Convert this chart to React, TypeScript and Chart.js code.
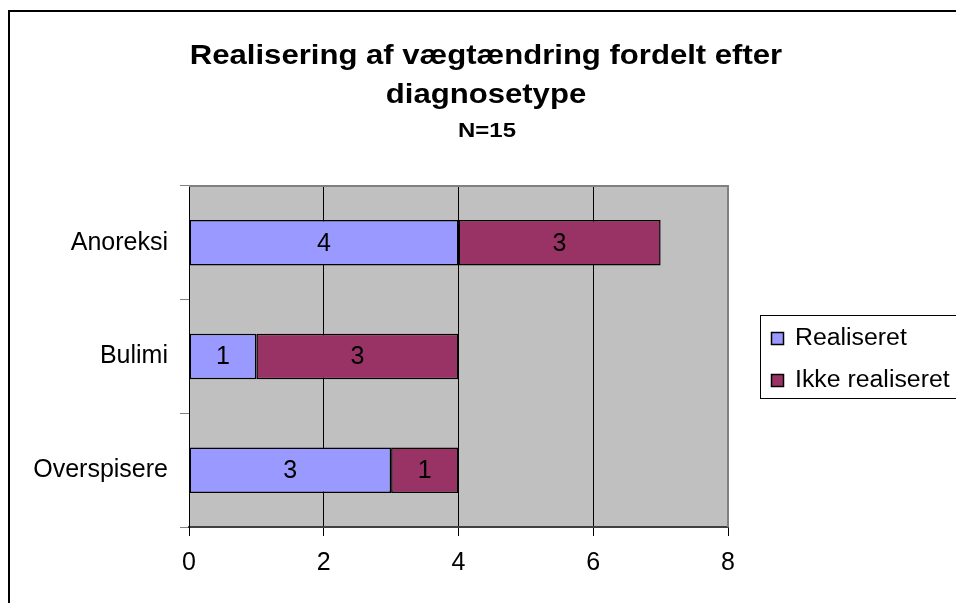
import React, { useEffect, useRef } from "react";
import { Chart, registerables } from "chart.js";

Chart.register(...registerables);

const categories = ["Anoreksi", "Bulimi", "Overspisere"];
const realiseret = [4, 1, 3];
const ikkeRealiseret = [3, 3, 1];
const seriesNames = ["Realiseret", "Ikke realiseret"];
const seriesColors = ["#9999FF", "#993366"];
const titleLines = ["Realisering af vægtændring fordelt efter", "diagnosetype"];
const subtitle = "N=15";
const xMin = 0;
const xMax = 8;
const xStep = 2;

const FONT = "'Liberation Sans', Arial, sans-serif";

const decorPlugin = {
  id: "decor",
  beforeDraw(chart: any) {
    const { ctx, chartArea } = chart;
    ctx.save();
    ctx.fillStyle = "#ffffff";
    ctx.fillRect(0, 0, chart.width, chart.height);
    ctx.strokeStyle = "#000000";
    ctx.lineWidth = 2;
    ctx.strokeRect(9, 11, chart.width + 20, chart.height + 20);
    ctx.fillStyle = "#C0C0C0";
    ctx.fillRect(chartArea.left, chartArea.top, chartArea.right - chartArea.left, chartArea.bottom - chartArea.top);
    ctx.restore();
  },
  afterDraw(chart: any) {
    const { ctx, chartArea } = chart;
    ctx.save();
    ctx.strokeStyle = "#808080";
    ctx.lineWidth = 2;
    ctx.beginPath();
    ctx.moveTo(chartArea.left, chartArea.top);
    ctx.lineTo(chartArea.right, chartArea.top);
    ctx.lineTo(chartArea.right, chartArea.bottom);
    ctx.stroke();

    ctx.fillStyle = "#000000";
    ctx.textAlign = "center";
    ctx.textBaseline = "alphabetic";
    const cx = 486;
    const drawScaled = (text: string, x: number, y: number, font: string, sx: number) => {
      ctx.save();
      ctx.translate(x, y);
      ctx.scale(sx, 1);
      ctx.font = font;
      ctx.fillText(text, 0, 0);
      ctx.restore();
    };
    drawScaled(titleLines[0], cx, 64, `bold 28px ${FONT}`, 1.11);
    drawScaled(titleLines[1], cx, 103, `bold 28px ${FONT}`, 1.11);
    drawScaled(subtitle, 487, 137, `bold 21px ${FONT}`, 1.14);

    const lx = 760;
    const ly = 315;
    ctx.strokeStyle = "#000000";
    ctx.lineWidth = 1;
    ctx.strokeRect(lx + 0.5, ly + 0.5, 300, 83);
    const items = chart.data.datasets;
    const rows = [345, 387];
    items.forEach((ds: any, i: number) => {
      const by = rows[i];
      ctx.fillStyle = ds.backgroundColor;
      ctx.fillRect(771, by - 13, 13, 13);
      ctx.strokeStyle = "#000000";
      ctx.lineWidth = 1.5;
      ctx.strokeRect(771.5, by - 12.5, 12, 12);
      ctx.fillStyle = "#000000";
      ctx.textAlign = "left";
      ctx.save();
      ctx.translate(795, by);
      ctx.scale(1.08, 1);
      ctx.font = `23px ${FONT}`;
      ctx.fillText(ds.label, 0, 0);
      ctx.restore();
    });

    ctx.fillStyle = "#000000";
    ctx.textAlign = "center";
    ctx.textBaseline = "middle";
    ctx.font = `25px ${FONT}`;
    chart.data.datasets.forEach((ds: any, di: number) => {
      const meta = chart.getDatasetMeta(di);
      meta.data.forEach((el: any, i: number) => {
        const v = ds.data[i];
        if (!v) return;
        const x = (el.x + el.base) / 2;
        ctx.fillText(String(v), x, el.y + 1);
      });
    });
    ctx.restore();
  },
};

export default function App() {
  const ref = useRef<HTMLCanvasElement | null>(null);
  useEffect(() => {
    if (!ref.current) return;
    const chart = new Chart(ref.current, {
      type: "bar",
      data: {
        labels: categories,
        datasets: [
          {
            label: seriesNames[0],
            data: realiseret,
            backgroundColor: seriesColors[0],
            borderColor: "#000000",
            borderWidth: 1.5,
            borderSkipped: false,
            categoryPercentage: 1,
            barPercentage: 0.4,
          },
          {
            label: seriesNames[1],
            data: ikkeRealiseret,
            backgroundColor: seriesColors[1],
            borderColor: "#000000",
            borderWidth: 1.5,
            borderSkipped: false,
            categoryPercentage: 1,
            barPercentage: 0.4,
          },
        ],
      },
      options: {
        indexAxis: "y",
        responsive: false,
        animation: false,
        layout: { padding: { top: 186, right: 228, left: 0, bottom: 0 } },
        plugins: {
          legend: { display: false },
          title: { display: false },
          tooltip: { enabled: false },
        },
        scales: {
          x: {
            stacked: true,
            min: xMin,
            max: xMax,
            afterFit: (scale: any) => {
              scale.height = 76;
            },
            ticks: {
              stepSize: xStep,
              color: "#000000",
              font: { family: FONT, size: 25 },
              padding: 12,
            },
            grid: {
              color: (c: any) =>
                c.tick && (c.tick.value === xMin || c.tick.value === xMax) ? "rgba(0,0,0,0)" : "#000000",
              tickColor: "#000000",
              tickLength: 9,
              lineWidth: 1,
            },
            border: { color: "#404040", width: 2 },
          },
          y: {
            stacked: true,
            afterFit: (scale: any) => {
              scale.width = 189;
            },
            ticks: {
              color: "#000000",
              font: { family: FONT, size: 25 },
              padding: 12,
            },
            grid: {
              offset: true,
              drawOnChartArea: false,
              tickColor: "#808080",
              tickLength: 9,
              lineWidth: 1,
            },
            border: { color: "#000000", width: 1 },
          },
        },
      },
      plugins: [decorPlugin],
    } as any);
    return () => chart.destroy();
  }, []);
  return (
    <div style={{ position: "fixed", left: 0, top: 0, width: 956, height: 603 }}>
      <canvas ref={ref} width={956} height={603} style={{ display: "block" }} />
    </div>
  );
}
